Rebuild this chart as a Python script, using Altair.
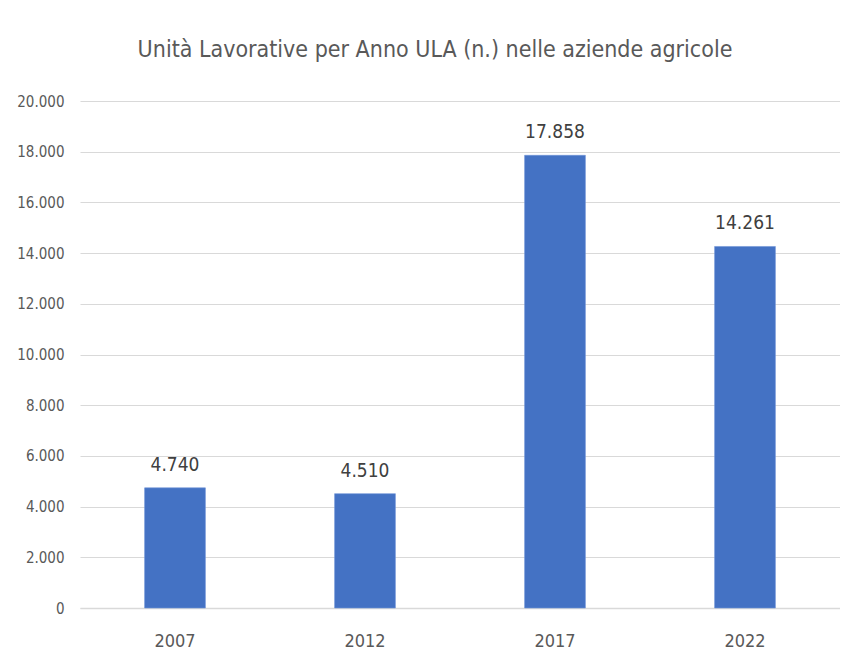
import altair as alt
import pandas as pd

years = ["2007", "2012", "2017", "2022"]
ula = [4740, 4510, 17858, 14261]

df = pd.DataFrame({"anno": years, "ula": ula})

FONT = "DejaVu Sans Condensed, sans-serif"
TXT = "#595959"

base = alt.Chart(df).encode(
    x=alt.X("anno:N", sort=years, title=None,
            scale=alt.Scale(paddingInner=0.68, paddingOuter=0.34),
            axis=alt.Axis(labelAngle=0, labelFont=FONT, labelFontSize=18,
                          labelColor=TXT, labelPadding=24, ticks=False,
                          domain=True, domainColor="#d9d9d9", domainWidth=1.5)),
)

bars = base.mark_bar(color="#4472C4", stroke="#6f94d6", strokeWidth=0.6).encode(
    y=alt.Y("ula:Q", title=None,
            scale=alt.Scale(domain=[0, 20000]),
            axis=alt.Axis(values=list(range(0, 20001, 2000)),
                          labelExpr="replace(format(datum.value, ','), ',', '.')",
                          labelFont=FONT, labelFontSize=15, labelColor=TXT,
                          labelPadding=16, ticks=False, domain=False,
                          grid=True, gridColor="#d9d9d9", gridWidth=1.2)),
)

labels = base.mark_text(baseline="bottom", dy=-13, font=FONT, fontSize=19,
                        color="#404040").encode(
    y="ula:Q",
    text=alt.Text("lab:N"),
).transform_calculate(lab="replace(format(datum.ula, ','), ',', '.')")

chart = (bars + labels).properties(
    width=760, height=507,
    background="white",
    title=alt.TitleParams("Unità Lavorative per Anno ULA (n.) nelle aziende agricole",
                          font=FONT, fontSize=23, fontWeight="normal", color=TXT,
                          anchor="middle", dx=-25, offset=32),
    autosize=alt.AutoSizeParams(type="none"),
    padding={"left": 72, "top": 93, "right": 0, "bottom": 45},
).configure_view(stroke=None)

chart.save("out.html", embed_options={"renderer": "svg", "actions": False})
